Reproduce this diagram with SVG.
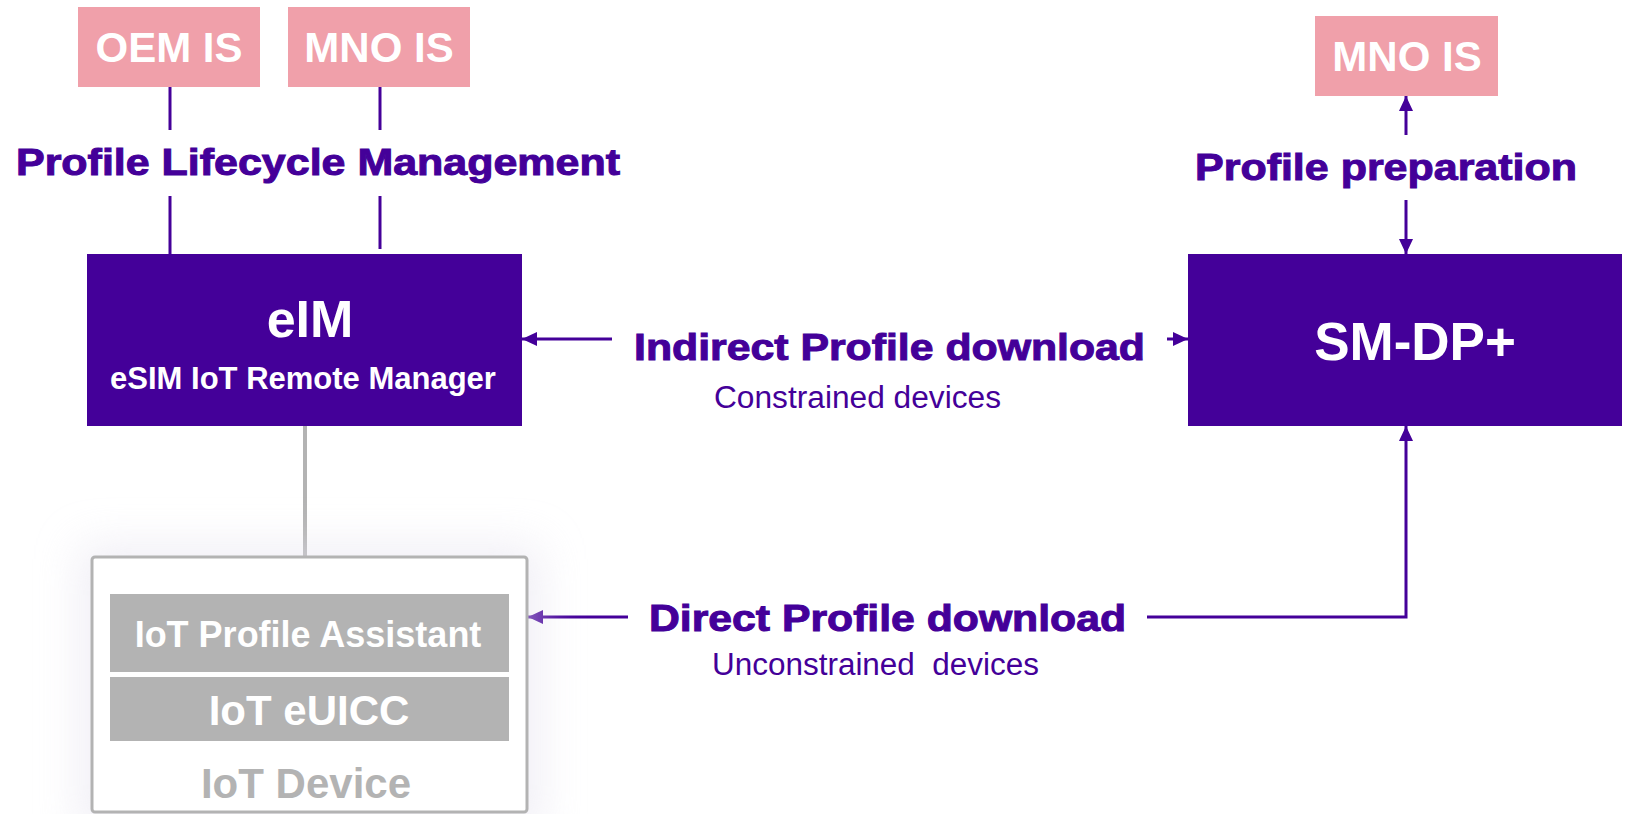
<svg xmlns="http://www.w3.org/2000/svg" width="1632" height="814" viewBox="0 0 1632 814">
<style>
.pink{fill:#f0a0aa}
.purple{fill:#440099}
.wt{fill:#ffffff;font-family:"Liberation Sans",Arial,sans-serif;font-weight:bold;text-anchor:middle}
.lbl{fill:#440099;stroke:#440099;stroke-width:1;font-family:"Liberation Sans",Arial,sans-serif;font-weight:bold;font-size:37px}
.sub{fill:#440099;font-family:"Liberation Sans",Arial,sans-serif;font-size:31px;white-space:pre}
.bar{fill:#b3b3b3}
.conn{stroke:#440099;stroke-width:3;fill:none}
</style>
<defs>
<marker id="ah" viewBox="0 0 15 14" refX="15" refY="7" markerWidth="15" markerHeight="14" markerUnits="userSpaceOnUse" orient="auto">
<path d="M0,0 L15,7 L0,14 z" fill="#440099"/>
</marker>
<filter id="haze" x="-30%" y="-30%" width="160%" height="160%">
<feGaussianBlur stdDeviation="22"/>
</filter>
</defs>
<rect width="1632" height="814" fill="#ffffff"/>

<g id="connectors">
<line class="conn" x1="170" y1="87" x2="170" y2="130"/>
<line class="conn" x1="170" y1="196" x2="170" y2="254"/>
<line class="conn" x1="380" y1="87" x2="380" y2="130"/>
<line class="conn" x1="380" y1="196" x2="380" y2="249"/>
<line class="conn" x1="1406" y1="135" x2="1406" y2="96" marker-end="url(#ah)"/>
<line class="conn" x1="1406" y1="200" x2="1406" y2="254" marker-end="url(#ah)"/>
<line class="conn" x1="612" y1="339" x2="522" y2="339" marker-end="url(#ah)"/>
<line class="conn" x1="1167" y1="339" x2="1188" y2="339" marker-end="url(#ah)"/>
<line class="conn" x1="628" y1="617" x2="528" y2="617" marker-end="url(#ah)"/>
<path class="conn" d="M1147,617 H1406 V426" marker-end="url(#ah)"/>
<line x1="305" y1="426" x2="305" y2="557" stroke="#b3b3b3" stroke-width="4"/>
</g>

<g id="oem-is">
<rect class="pink" x="78" y="7" width="182" height="80"/>
<text class="wt" x="169" y="62" font-size="42">OEM IS</text>
</g>
<g id="mno-is-left">
<rect class="pink" x="288" y="7" width="182" height="80"/>
<text class="wt" x="379" y="62" font-size="42">MNO IS</text>
</g>
<g id="mno-is-right">
<rect class="pink" x="1315" y="16" width="183" height="80"/>
<text class="wt" x="1407" y="71" font-size="42">MNO IS</text>
</g>

<g id="label-plm">
<text class="lbl" x="16" y="175" textLength="604" lengthAdjust="spacingAndGlyphs">Profile Lifecycle Management</text>
</g>
<g id="label-prep">
<text class="lbl" x="1195" y="180" textLength="382" lengthAdjust="spacingAndGlyphs">Profile preparation</text>
</g>

<g id="eim">
<rect class="purple" x="87" y="254" width="435" height="172"/>
<text class="wt" x="310" y="337" font-size="52">eIM</text>
<text class="wt" x="303" y="389" font-size="31">eSIM IoT Remote Manager</text>
</g>

<g id="smdp">
<rect class="purple" x="1188" y="254" width="434" height="172"/>
<text class="wt" x="1415" y="360" font-size="53">SM-DP+</text>
</g>

<g id="label-indirect">
<text class="lbl" x="634" y="360" textLength="511" lengthAdjust="spacingAndGlyphs">Indirect Profile download</text>
<text class="sub" x="714" y="408" textLength="287" lengthAdjust="spacingAndGlyphs">Constrained devices</text>
</g>

<g id="label-direct">
<text class="lbl" x="649" y="631" textLength="477" lengthAdjust="spacingAndGlyphs">Direct Profile download</text>
<text class="sub" x="712" y="675" textLength="327" lengthAdjust="spacingAndGlyphs">Unconstrained  devices</text>
</g>

<g id="iot-device">
<rect x="80" y="545" width="460" height="290" fill="#e4e1ee" opacity="0.55" filter="url(#haze)"/>
<rect x="92" y="557" width="435" height="255" rx="3" fill="#ffffff" stroke="#b3b3b3" stroke-width="3"/>
<text x="306" y="798" font-family="Liberation Sans, Arial, sans-serif" font-weight="bold" font-size="42" fill="#b3b3b3" text-anchor="middle">IoT Device</text>
</g>
<g id="iot-profile-assistant">
<rect class="bar" x="110" y="594" width="399" height="78"/>
<text class="wt" x="308" y="647" font-size="36">IoT Profile Assistant</text>
</g>
<g id="iot-euicc">
<rect class="bar" x="110" y="677" width="399" height="64"/>
<text class="wt" x="309" y="725" font-size="42">IoT eUICC</text>
</g>
</svg>
